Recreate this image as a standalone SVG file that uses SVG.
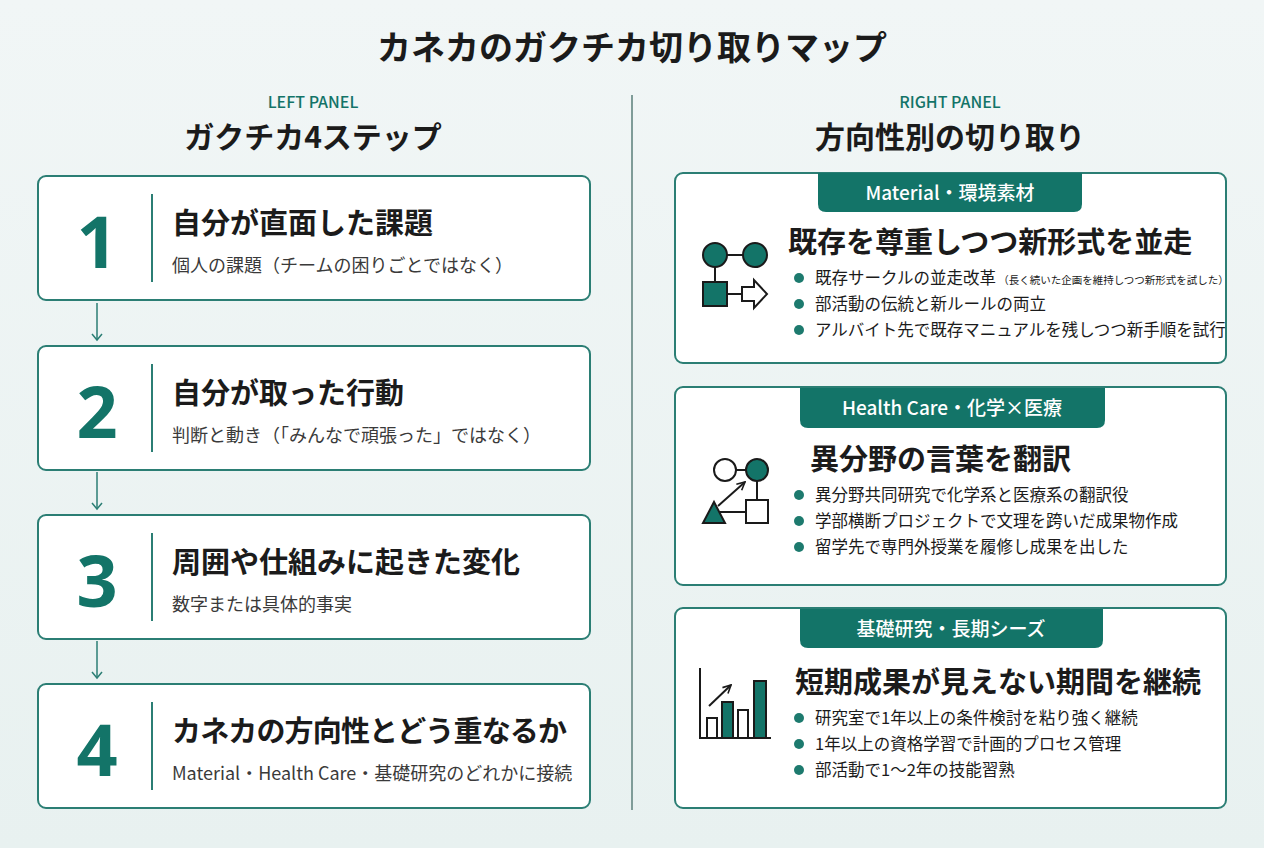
<svg xmlns="http://www.w3.org/2000/svg" width="1264" height="848" viewBox="0 0 1264 848">
<defs>
<linearGradient id="bg" x1="0" y1="0" x2="0" y2="1"><stop offset="0" stop-color="#f1f6f6"/><stop offset="1" stop-color="#e8f1f0"/></linearGradient>
<marker id="chev" viewBox="0 0 12 12" refX="10" refY="6" markerWidth="12" markerHeight="12" markerUnits="userSpaceOnUse" orient="auto"><path d="M4,1 L10,6 L4,11" fill="none" stroke="#2b7e74" stroke-width="1.5"/></marker>
<marker id="ar" viewBox="0 0 10 10" refX="9" refY="5" markerWidth="10" markerHeight="10" markerUnits="userSpaceOnUse" orient="auto"><path d="M1,1 L9,5 L1,9" fill="none" stroke="#1a1a1a" stroke-width="1.6"/></marker>
</defs>
<style>
text{font-family:"Noto Sans CJK JP","Noto Sans",sans-serif;fill:#1b1b1b}
.card{fill:#fff;stroke:#2b7e74;stroke-width:2}
.num{font-family:"Noto Sans","Noto Sans CJK JP",sans-serif;font-size:72px;font-weight:700;fill:#137468;text-anchor:middle}
.t{font-size:29px;font-weight:700}
.s{font-size:18px;fill:#3a3a3a}
.h{font-size:29px;font-weight:700}
.b{font-size:16.5px}
.tab{fill:#137468}
.tt{font-size:19px;fill:#fff;text-anchor:middle;font-weight:500}
.dot{fill:#1d7a6e}
.ic{stroke:#1a1a1a;stroke-width:2}
.f{fill:#137468}
.o{fill:#fff}
</style>
<rect width="1264" height="848" fill="url(#bg)"/>
<text x="632" y="60" font-size="34" font-weight="700" text-anchor="middle">カネカのガクチカ切り取りマップ</text>
<line x1="632" y1="95" x2="632" y2="810" stroke="#7f9c98" stroke-width="2"/>
<text x="313" y="108" font-size="16" style="fill:#137468" text-anchor="middle" font-weight="500">LEFT PANEL</text>
<text x="313" y="148" font-size="30" font-weight="700" text-anchor="middle">ガクチカ4ステップ</text>
<text x="950" y="108" font-size="16" style="fill:#137468" text-anchor="middle" font-weight="500">RIGHT PANEL</text>
<text x="950" y="148" font-size="30" font-weight="700" text-anchor="middle">方向性別の切り取り</text>

<g id="connectors" stroke="#2b7e74" stroke-width="1.5" fill="none">
<line x1="97" y1="303" x2="97" y2="340" marker-end="url(#chev)"/>
<line x1="97" y1="472" x2="97" y2="509" marker-end="url(#chev)"/>
<line x1="97" y1="641" x2="97" y2="678" marker-end="url(#chev)"/>
</g>

<g id="step1"><rect class="card" x="38" y="176" width="552" height="124" rx="8"/><text class="num" x="97" y="268">1</text><line x1="152" y1="194" x2="152" y2="282" stroke="#2b7e74" stroke-width="2"/><text class="t" x="172" y="234">自分が直面した課題</text><text class="s" x="172" y="272">個人の課題（チームの困りごとではなく）</text></g>
<g id="step2"><rect class="card" x="38" y="346" width="552" height="124" rx="8"/><text class="num" x="97" y="438">2</text><line x1="152" y1="364" x2="152" y2="452" stroke="#2b7e74" stroke-width="2"/><text class="t" x="172" y="404">自分が取った行動</text><text class="s" x="172" y="442">判断と動き（「みんなで頑張った」ではなく）</text></g>
<g id="step3"><rect class="card" x="38" y="515" width="552" height="124" rx="8"/><text class="num" x="97" y="607">3</text><line x1="152" y1="533" x2="152" y2="621" stroke="#2b7e74" stroke-width="2"/><text class="t" x="172" y="573">周囲や仕組みに起きた変化</text><text class="s" x="172" y="611">数字または具体的事実</text></g>
<g id="step4"><rect class="card" x="38" y="684" width="552" height="124" rx="8"/><text class="num" x="97" y="776">4</text><line x1="152" y1="702" x2="152" y2="790" stroke="#2b7e74" stroke-width="2"/><text class="t" x="172" y="742" textLength="395">カネカの方向性とどう重なるか</text><text class="s" x="172" y="780">Material・Health Care・基礎研究のどれかに接続</text></g>

<g id="material">
<rect class="card" x="675" y="173" width="551" height="190" rx="8"/>
<path class="tab" d="M818,173 H1082 V204 Q1082,212 1074,212 H826 Q818,212 818,204 Z"/>
<text class="tt" x="950" y="200">Material・環境素材</text>
<line class="ic" x1="715" y1="255" x2="755" y2="255"/><line class="ic" x1="715" y1="255" x2="715" y2="284"/><line class="ic" x1="727" y1="294" x2="742" y2="294"/>
<circle class="ic f" cx="715" cy="255" r="12"/><circle class="ic f" cx="755" cy="255" r="12"/>
<rect class="ic f" x="703" y="282" width="24" height="24"/>
<path class="ic o" d="M742,287 H754 V280 L767,294 L754,308 V301 H742 Z"/>
<text class="h" x="788" y="253">既存を尊重しつつ新形式を並走</text>
<circle class="dot" cx="799" cy="278" r="5"/><text class="b" x="815" y="284">既存サークルの並走改革<tspan font-size="10.5"> （長く続いた企画を維持しつつ新形式を試した）</tspan></text>
<circle class="dot" cx="799" cy="304" r="5"/><text class="b" x="815" y="310">部活動の伝統と新ルールの両立</text>
<circle class="dot" cx="799" cy="330" r="5"/><text class="b" x="815" y="336">アルバイト先で既存マニュアルを残しつつ新手順を試行</text>
</g>

<g id="healthcare">
<rect class="card" x="675" y="387" width="551" height="198" rx="8"/>
<path class="tab" d="M800,388 H1105 V420 Q1105,428 1097,428 H808 Q800,428 800,420 Z"/>
<text class="tt" x="952" y="415">Health Care・化学×医療</text>
<line class="ic" x1="725" y1="470" x2="757" y2="470"/><line class="ic" x1="757" y1="470" x2="757" y2="500"/><line class="ic" x1="720" y1="512" x2="746" y2="512"/>
<line class="ic" x1="718" y1="506" x2="745" y2="482" marker-end="url(#ar)"/>
<circle class="ic o" cx="725" cy="470" r="11"/><circle class="ic f" cx="757" cy="470" r="11"/>
<rect class="ic o" x="746" y="500" width="22" height="23"/>
<path class="ic f" d="M703,523 L725,523 L714,502 Z"/>
<text class="h" x="810" y="470">異分野の言葉を翻訳</text>
<circle class="dot" cx="799" cy="495" r="5"/><text class="b" x="815" y="501">異分野共同研究で化学系と医療系の翻訳役</text>
<circle class="dot" cx="799" cy="521" r="5"/><text class="b" x="815" y="527">学部横断プロジェクトで文理を跨いだ成果物作成</text>
<circle class="dot" cx="799" cy="547" r="5"/><text class="b" x="815" y="553">留学先で専門外授業を履修し成果を出した</text>
</g>

<g id="basic">
<rect class="card" x="675" y="608" width="551" height="200" rx="8"/>
<path class="tab" d="M800,609 H1103 V640 Q1103,648 1095,648 H808 Q800,648 800,640 Z"/>
<text class="tt" x="951" y="636">基礎研究・長期シーズ</text>
<polyline class="ic" fill="none" points="700,668 700,738 771,738"/>
<rect class="ic o" x="707" y="718" width="10" height="20"/><rect class="ic f" x="722" y="702" width="11" height="36"/><rect class="ic o" x="738" y="710" width="10" height="28"/><rect class="ic f" x="754" y="681" width="12" height="57"/>
<line class="ic" x1="709" y1="706" x2="731" y2="685" marker-end="url(#ar)"/>
<text class="h" x="795" y="693">短期成果が見えない期間を継続</text>
<circle class="dot" cx="799" cy="718" r="5"/><text class="b" x="815" y="724">研究室で1年以上の条件検討を粘り強く継続</text>
<circle class="dot" cx="799" cy="744" r="5"/><text class="b" x="815" y="750">1年以上の資格学習で計画的プロセス管理</text>
<circle class="dot" cx="799" cy="770" r="5"/><text class="b" x="815" y="776">部活動で1〜2年の技能習熟</text>
</g>
</svg>
